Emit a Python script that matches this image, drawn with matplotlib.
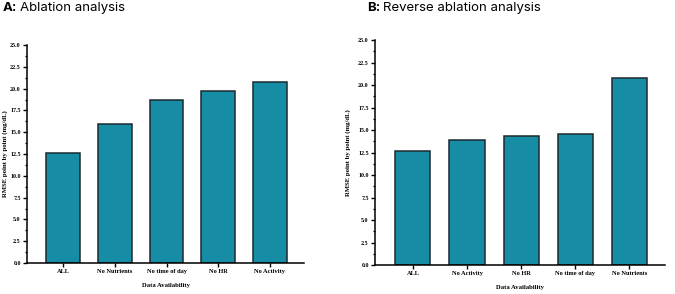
import numpy as np
import matplotlib.pyplot as plt
from matplotlib.ticker import MultipleLocator

# panel A: ablation
cats_a = ["ALL", "No Nutrients", "No time of day", "No HR", "No Activity"]
rmse_a = [12.65, 15.97, 18.7, 19.72, 20.8]

# panel B: reverse ablation
cats_b = ["ALL", "No Activity", "No HR", "No time of day", "No Nutrients"]
rmse_b = [12.68, 13.84, 14.28, 14.54, 20.73]

yticks = [0.0, 2.5, 5.0, 7.5, 10.0, 12.5, 15.0, 17.5, 20.0, 22.5, 25.0]

bar_color = "#168DA5"
edge_color = "#1c2b30"
serif = ["Liberation Serif", "DejaVu Serif"]


def draw_panel(ax, cats, vals, ylab_x):
    x = np.arange(len(cats))
    ax.bar(x, vals, width=0.65, color=bar_color, edgecolor=edge_color, linewidth=1.1)
    ax.set_xlim(-0.7, 4.66)
    ax.set_xticks(x)
    ax.set_xticklabels(cats, fontfamily=serif, fontweight="bold", fontsize=4.6)
    ax.set_yticks(yticks)
    ax.set_yticklabels([f"{v:.1f}" for v in yticks],
                       fontfamily=serif, fontweight="bold", fontsize=4.3)
    ax.yaxis.set_minor_locator(MultipleLocator(1.25))
    ax.set_ylim(0, 25)
    for s in ["top", "right"]:
        ax.spines[s].set_visible(False)
    for s in ["left", "bottom"]:
        ax.spines[s].set_linewidth(1.1)
        ax.spines[s].set_color("black")
    ax.tick_params(axis="both", which="major", length=3, width=1.0, pad=1.5)
    ax.tick_params(axis="y", which="minor", length=1.8, width=0.9)
    ax.set_xlabel("Data Availability", fontfamily=serif, fontweight="bold",
                  fontsize=4.8, labelpad=6)
    ax.set_ylabel("RMSE point by point (mg/dL)", fontfamily=serif,
                  fontweight="bold", fontsize=4.9)
    ax.yaxis.set_label_coords(ylab_x, 0.5)


fig = plt.figure(figsize=(6.75, 2.94), dpi=100)
ax_a = fig.add_axes([0.04, 0.1054, 0.4104, 0.7415])
ax_b = fig.add_axes([0.5556, 0.0986, 0.4296, 0.7653])

draw_panel(ax_a, cats_a, rmse_a, -0.068)
draw_panel(ax_b, cats_b, rmse_b, -0.082)

# panel titles: bold tag followed by regular text
fig.canvas.draw()
for xpos, tag, title in [(0.004, "A:", "Ablation analysis"),
                         (0.544, "B:", "Reverse ablation analysis")]:
    t = fig.text(xpos, 0.972, tag, fontfamily="Inter", fontweight="bold",
                 fontsize=9.5, va="center")
    bb = t.get_window_extent(renderer=fig.canvas.get_renderer())
    fig.text(bb.x1 / fig.bbox.width + 0.004, 0.972, title, fontfamily="Inter",
             fontsize=9.5, va="center")

fig.savefig("out.png", dpi=100)
